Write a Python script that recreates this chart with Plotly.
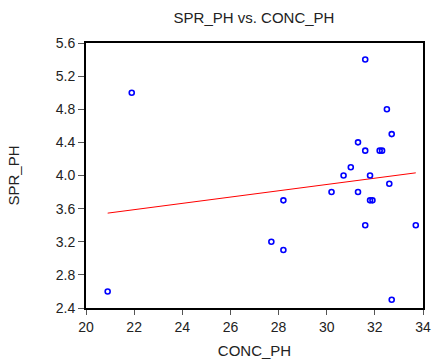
import numpy as np
import plotly.graph_objects as go

conc_ph = [31.6, 21.9, 32.5, 32.7, 31.3, 31.6, 32.2, 32.3, 31.0, 30.7, 31.8, 32.6,
           30.2, 31.3, 28.2, 31.8, 31.9, 31.6, 33.7, 27.7, 28.2, 20.9, 32.7]
spr_ph = [5.4, 5.0, 4.8, 4.5, 4.4, 4.3, 4.3, 4.3, 4.1, 4.0, 4.0, 3.9,
          3.8, 3.8, 3.7, 3.7, 3.7, 3.4, 3.4, 3.2, 3.1, 2.6, 2.5]

x_ticks = [20, 22, 24, 26, 28, 30, 32, 34]
y_ticks = [2.4, 2.8, 3.2, 3.6, 4.0, 4.4, 4.8, 5.2, 5.6]

slope, intercept = np.polyfit(conc_ph, spr_ph, 1)
fx = np.array([min(conc_ph), max(conc_ph)])
fy = intercept + slope * fx

font = "Liberation Sans, Arial, sans-serif"

fig = go.Figure()
fig.add_trace(go.Scatter(x=fx, y=fy, mode="lines",
                         line=dict(color="red", width=1), showlegend=False))
fig.add_trace(go.Scatter(x=conc_ph, y=spr_ph, mode="markers",
                         marker=dict(symbol="circle-open", size=5, color="blue",
                                     line=dict(width=1.6, color="blue")),
                         showlegend=False))

axis_common = dict(showgrid=False, zeroline=False, showline=True, linecolor="black",
                   linewidth=2, mirror=True, ticks="outside", automargin=False,
                   tickcolor="#555", tickwidth=1,
                   tickfont=dict(family=font, size=14, color="#222"))

fig.update_layout(
    width=432, height=362,
    margin=dict(l=86, r=9, t=43, b=54),
    paper_bgcolor="white", plot_bgcolor="white",
    title=dict(text="SPR_PH vs. CONC_PH", x=0.588, xanchor="center", y=0.95, yanchor="middle",
               font=dict(family=font, size=15, color="#222")),
    xaxis=dict(range=[20, 34], tickvals=x_ticks, ticktext=[str(v) for v in x_ticks], ticklen=5,
               title=dict(text="CONC_PH", font=dict(family=font, size=15, color="#222"), standoff=12),
               **axis_common),
    yaxis=dict(range=[2.4, 5.6], tickvals=y_ticks, ticktext=[f"{v:.1f}" for v in y_ticks], ticklen=6,
               title=dict(text="SPR_PH", font=dict(family=font, size=15, color="#222"), standoff=32),
               **axis_common),
)

fig.write_html("out.html")
